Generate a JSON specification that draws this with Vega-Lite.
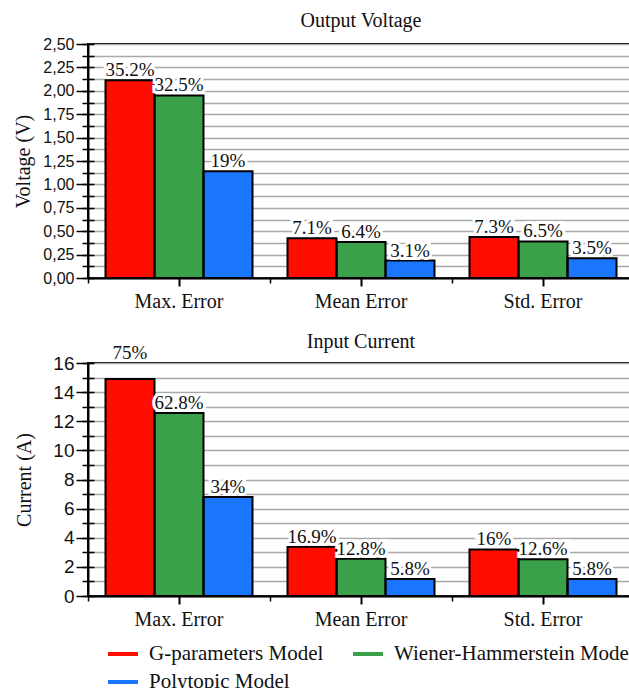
{
  "$schema": "https://vega.github.io/schema/vega-lite/v6.json",
  "padding": {"left": 12, "top": 10, "right": 0, "bottom": 0},
  "config": {
    "view": {"stroke": "black", "strokeWidth": 2},
    "font": "Liberation Serif",
    "title": {"font": "Liberation Serif", "fontSize": 20, "fontWeight": "normal", "color": "#111111"},
    "legend": {"labelFont": "Liberation Serif", "labelFontSize": 21, "labelColor": "#111111"},
    "axis": {
      "domainColor": "black", "domainWidth": 2,
      "tickColor": "black", "tickWidth": 1.5,
      "labelColor": "#111111", "titleColor": "#111111",
      "titleFont": "Liberation Serif", "titleFontSize": 20, "titleFontWeight": "normal",
      "gridColor": "#a9a9a9", "gridWidth": 1.5
    }
  },
  "datasets": {
    "voltage": [
      {"metric": "Max. Error", "model": "G-parameters Model", "value": 2.112, "label": "35.2%"},
      {"metric": "Max. Error", "model": "Wiener-Hammerstein Model", "value": 1.95, "label": "32.5%"},
      {"metric": "Max. Error", "model": "Polytopic Model", "value": 1.14, "label": "19%"},
      {"metric": "Mean Error", "model": "G-parameters Model", "value": 0.426, "label": "7.1%"},
      {"metric": "Mean Error", "model": "Wiener-Hammerstein Model", "value": 0.384, "label": "6.4%"},
      {"metric": "Mean Error", "model": "Polytopic Model", "value": 0.186, "label": "3.1%"},
      {"metric": "Std. Error", "model": "G-parameters Model", "value": 0.438, "label": "7.3%"},
      {"metric": "Std. Error", "model": "Wiener-Hammerstein Model", "value": 0.39, "label": "6.5%"},
      {"metric": "Std. Error", "model": "Polytopic Model", "value": 0.21, "label": "3.5%"}
    ],
    "current": [
      {"metric": "Max. Error", "model": "G-parameters Model", "value": 14.9, "label": "75%"},
      {"metric": "Max. Error", "model": "Wiener-Hammerstein Model", "value": 12.56, "label": "62.8%"},
      {"metric": "Max. Error", "model": "Polytopic Model", "value": 6.8, "label": "34%"},
      {"metric": "Mean Error", "model": "G-parameters Model", "value": 3.38, "label": "16.9%"},
      {"metric": "Mean Error", "model": "Wiener-Hammerstein Model", "value": 2.56, "label": "12.8%"},
      {"metric": "Mean Error", "model": "Polytopic Model", "value": 1.16, "label": "5.8%"},
      {"metric": "Std. Error", "model": "G-parameters Model", "value": 3.2, "label": "16%"},
      {"metric": "Std. Error", "model": "Wiener-Hammerstein Model", "value": 2.52, "label": "12.6%"},
      {"metric": "Std. Error", "model": "Polytopic Model", "value": 1.16, "label": "5.8%"}
    ]
  },
  "spacing": 19,
  "resolve": {"scale": {"color": "shared"}},
  "vconcat": [
    {
      "title": {"text": "Output Voltage", "frame": "group", "offset": 5},
      "width": 546,
      "height": 234,
      "data": {"name": "voltage"},
      "transform": [{"calculate": "datum.value", "as": "labelY"}],
      "layer": [
        {
          "mark": {"type": "bar"},
          "encoding": {
            "x": {"field": "metric", "type": "nominal", "sort": ["Max. Error", "Mean Error", "Std. Error"],
                  "scale": {"paddingInner": 0, "paddingOuter": 0},
                  "axis": {"orient": "bottom", "title": null, "labelAngle": 0, "labelFont": "Liberation Serif", "labelFontSize": 20, "tickSize": 8, "tickWidth": 2, "labelPadding": 5}},
            "xOffset": {"field": "model", "type": "nominal", "sort": ["G-parameters Model", "Wiener-Hammerstein Model", "Polytopic Model"],
                        "scale": {"paddingInner": 0, "paddingOuter": 0.357}},
            "y": {"field": "value", "type": "quantitative", "scale": {"domain": [0, 2.5], "nice": false},
                  "axis": {"orient": "left", "title": null, "labels": false, "domain": false, "grid": true, "tickSize": 6,
                           "values": [0, 0.125, 0.25, 0.375, 0.5, 0.625, 0.75, 0.875, 1, 1.125, 1.25, 1.375, 1.5, 1.625, 1.75, 1.875, 2, 2.125, 2.25, 2.375, 2.5]}},
            "color": {"field": "model", "type": "nominal", "sort": ["G-parameters Model", "Wiener-Hammerstein Model", "Polytopic Model"],
                      "scale": {"domain": ["G-parameters Model", "Wiener-Hammerstein Model", "Polytopic Model"], "range": ["#ff0d00", "#3aa049", "#1a76ff"]},
                      "legend": {"title": null, "orient": "none", "legendX": 18, "legendY": 593, "columns": 2, "direction": "horizontal",
                                 "symbolType": "stroke", "symbolSize": 900, "symbolStrokeWidth": 4, "columnPadding": 21, "rowPadding": 1,
                                 "labelFont": "Liberation Serif", "labelFontSize": 21, "labelColor": "#111111", "labelOffset": 9, "labelLimit": 500,
                                 "encode": {"symbols": {"update": {"stroke": {"scale": "color", "field": "value"}}},
                                            "labels": {"update": {"font": {"value": "Liberation Serif"}}}}}}
          }
        },
        {
          "mark": {"type": "bar", "fill": null, "fillOpacity": 0, "stroke": "black", "strokeWidth": 2},
          "encoding": {
            "x": {"field": "metric", "type": "nominal", "sort": ["Max. Error", "Mean Error", "Std. Error"], "axis": null},
            "xOffset": {"field": "model", "type": "nominal", "sort": ["G-parameters Model", "Wiener-Hammerstein Model", "Polytopic Model"]},
            "y": {"field": "value", "type": "quantitative", "axis": null}
          }
        },
        {
          "mark": {"type": "text", "baseline": "alphabetic", "dy": -4, "fontSize": 19, "font": "Liberation Serif", "stroke": "white", "strokeWidth": 6, "fill": "white"},
          "encoding": {
            "x": {"field": "metric", "type": "nominal", "sort": ["Max. Error", "Mean Error", "Std. Error"], "axis": null},
            "xOffset": {"field": "model", "type": "nominal", "sort": ["G-parameters Model", "Wiener-Hammerstein Model", "Polytopic Model"]},
            "y": {"field": "labelY", "type": "quantitative",
                  "axis": {"orient": "left", "title": "Voltage (V)", "grid": false, "tickSize": 12, "tickWidth": 1.5, "labelFont": "Liberation Sans", "labelFontSize": 16, "labelPadding": 2, "titlePadding": 9,
                           "values": [0, 0.25, 0.5, 0.75, 1, 1.25, 1.5, 1.75, 2, 2.25, 2.5],
                           "labelExpr": "replace(format(datum.value, '.2f'), '.', ',')"}},
            "text": {"field": "label"}
          }
        },
        {
          "mark": {"type": "text", "baseline": "alphabetic", "dy": -4, "fontSize": 19, "font": "Liberation Serif", "fill": "#111111"},
          "encoding": {
            "x": {"field": "metric", "type": "nominal", "sort": ["Max. Error", "Mean Error", "Std. Error"],
                  "axis": {"orient": "bottom", "title": null, "labels": false, "domain": false, "tickBand": "extent", "tickSize": 5, "tickWidth": 1.5}},
            "xOffset": {"field": "model", "type": "nominal", "sort": ["G-parameters Model", "Wiener-Hammerstein Model", "Polytopic Model"]},
            "y": {"field": "labelY", "type": "quantitative",
                  "axis": {"orient": "left", "title": null, "labels": false, "domain": false, "grid": false, "tickSize": -6,
                           "values": [0, 0.125, 0.25, 0.375, 0.5, 0.625, 0.75, 0.875, 1, 1.125, 1.25, 1.375, 1.5, 1.625, 1.75, 1.875, 2, 2.125, 2.25, 2.375, 2.5]}},
            "text": {"field": "label"}
          }
        }
      ],
      "resolve": {"axis": {"x": "independent", "y": "independent"}}
    },
    {
      "title": {"text": "Input Current", "frame": "group", "offset": -8},
      "width": 546,
      "height": 233,
      "data": {"name": "current"},
      "transform": [{"calculate": "datum.value > 14.5 ? 16 : datum.value", "as": "labelY"}],
      "layer": [
        {
          "mark": {"type": "bar"},
          "encoding": {
            "x": {"field": "metric", "type": "nominal", "sort": ["Max. Error", "Mean Error", "Std. Error"],
                  "scale": {"paddingInner": 0, "paddingOuter": 0},
                  "axis": {"orient": "bottom", "title": null, "labelAngle": 0, "labelFont": "Liberation Serif", "labelFontSize": 20, "tickSize": 8, "tickWidth": 2, "labelPadding": 5}},
            "xOffset": {"field": "model", "type": "nominal", "sort": ["G-parameters Model", "Wiener-Hammerstein Model", "Polytopic Model"],
                        "scale": {"paddingInner": 0, "paddingOuter": 0.357}},
            "y": {"field": "value", "type": "quantitative", "scale": {"domain": [0, 16], "nice": false},
                  "axis": {"orient": "left", "title": null, "labels": false, "domain": false, "grid": true, "tickSize": 6,
                           "values": [0, 1, 2, 3, 4, 5, 6, 7, 8, 9, 10, 11, 12, 13, 14, 15, 16]}},
            "color": {"field": "model", "type": "nominal", "sort": ["G-parameters Model", "Wiener-Hammerstein Model", "Polytopic Model"],
                      "legend": {"title": null, "orient": "none", "legendX": 18, "legendY": 593, "columns": 2, "direction": "horizontal",
                                 "symbolType": "stroke", "symbolSize": 900, "symbolStrokeWidth": 4, "columnPadding": 21, "rowPadding": 1,
                                 "labelFont": "Liberation Serif", "labelFontSize": 21, "labelColor": "#111111", "labelOffset": 9, "labelLimit": 500,
                                 "encode": {"symbols": {"update": {"stroke": {"scale": "color", "field": "value"}}},
                                            "labels": {"update": {"font": {"value": "Liberation Serif"}}}}}}
          }
        },
        {
          "mark": {"type": "bar", "fill": null, "fillOpacity": 0, "stroke": "black", "strokeWidth": 2},
          "encoding": {
            "x": {"field": "metric", "type": "nominal", "sort": ["Max. Error", "Mean Error", "Std. Error"], "axis": null},
            "xOffset": {"field": "model", "type": "nominal", "sort": ["G-parameters Model", "Wiener-Hammerstein Model", "Polytopic Model"]},
            "y": {"field": "value", "type": "quantitative", "axis": null}
          }
        },
        {
          "mark": {"type": "text", "baseline": "alphabetic", "dy": -4, "fontSize": 19, "font": "Liberation Serif", "stroke": "white", "strokeWidth": 6, "fill": "white"},
          "encoding": {
            "x": {"field": "metric", "type": "nominal", "sort": ["Max. Error", "Mean Error", "Std. Error"], "axis": null},
            "xOffset": {"field": "model", "type": "nominal", "sort": ["G-parameters Model", "Wiener-Hammerstein Model", "Polytopic Model"]},
            "y": {"field": "labelY", "type": "quantitative",
                  "axis": {"orient": "left", "title": "Current (A)", "grid": false, "tickSize": 12, "tickWidth": 1.5, "labelFont": "Liberation Sans", "labelFontSize": 19, "labelPadding": 2, "titlePadding": 18,
                           "values": [0, 2, 4, 6, 8, 10, 12, 14, 16]}},
            "text": {"field": "label"}
          }
        },
        {
          "mark": {"type": "text", "baseline": "alphabetic", "dy": -4, "fontSize": 19, "font": "Liberation Serif", "fill": "#111111"},
          "encoding": {
            "x": {"field": "metric", "type": "nominal", "sort": ["Max. Error", "Mean Error", "Std. Error"],
                  "axis": {"orient": "bottom", "title": null, "labels": false, "domain": false, "tickBand": "extent", "tickSize": 5, "tickWidth": 1.5}},
            "xOffset": {"field": "model", "type": "nominal", "sort": ["G-parameters Model", "Wiener-Hammerstein Model", "Polytopic Model"]},
            "y": {"field": "labelY", "type": "quantitative",
                  "axis": {"orient": "left", "title": null, "labels": false, "domain": false, "grid": false, "tickSize": -6,
                           "values": [0, 1, 2, 3, 4, 5, 6, 7, 8, 9, 10, 11, 12, 13, 14, 15, 16]}},
            "text": {"field": "label"}
          }
        }
      ],
      "resolve": {"axis": {"x": "independent", "y": "independent"}}
    }
  ]
}
